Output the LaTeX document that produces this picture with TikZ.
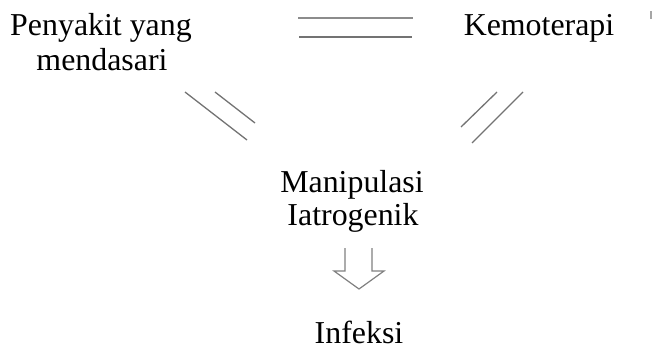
\documentclass[tikz,border=0pt]{standalone}
\usepackage{fontspec}
\setmainfont{Liberation Serif}
\begin{document}
\begin{tikzpicture}[x=1bp,y=-1bp,
  lbl/.style={inner sep=0pt,anchor=base,font=\fontsize{32}{35}\selectfont,align=center},
  dline/.style={draw=black!55,line width=1.3bp},
  aline/.style={draw=black!50,line width=1.2bp,line join=miter}]
\useasboundingbox (0,0) rectangle (658,356);
% text nodes
\node[lbl] (pen) at (101,35) {Penyakit yang};
\node[lbl] (men) at (102,70) {mendasari};
\node[lbl] (kem) at (539,35) {Kemoterapi};
\node[lbl] (man) at (352,192) {Manipulasi};
\node[lbl] (iat) at (353,225) {Iatrogenik};
\node[lbl] (inf) at (359,343) {Infeksi};
% double line between top nodes
\coordinate (h1a) at (298,18); \coordinate (h1b) at (413,18);
\coordinate (h2a) at (299,37); \coordinate (h2b) at (412,37);
\draw[dline,draw=black!45,line width=1.8bp] (h1a) -- (h1b);
\draw[dline] (h2a) -- (h2b);
% left diagonal double line
\coordinate (l1a) at (185,92); \coordinate (l1b) at (247,140);
\coordinate (l2a) at (215,92); \coordinate (l2b) at (255,123);
\draw[dline] (l1a) -- (l1b);
\draw[dline] (l2a) -- (l2b);
% right diagonal double line
\coordinate (r1a) at (461,127); \coordinate (r1b) at (497,92);
\coordinate (r2a) at (472,143); \coordinate (r2b) at (523,92);
\draw[dline] (r1a) -- (r1b);
\draw[dline] (r2a) -- (r2b);
% hollow down arrow
\coordinate (a1) at (345,248); \coordinate (a2) at (345,271);
\coordinate (a3) at (334,271); \coordinate (a4) at (359,289);
\coordinate (a5) at (384,271); \coordinate (a6) at (372,271);
\coordinate (a7) at (372,248);
\draw[aline] (a1) -- (a2) -- (a3) -- (a4) -- (a5) -- (a6) -- (a7);
% small tick at top right
\coordinate (t1) at (651,11); \coordinate (t2) at (651,19);
\draw[draw=black!35,line width=1.5bp] (t1) -- (t2);
\end{tikzpicture}
\end{document}
